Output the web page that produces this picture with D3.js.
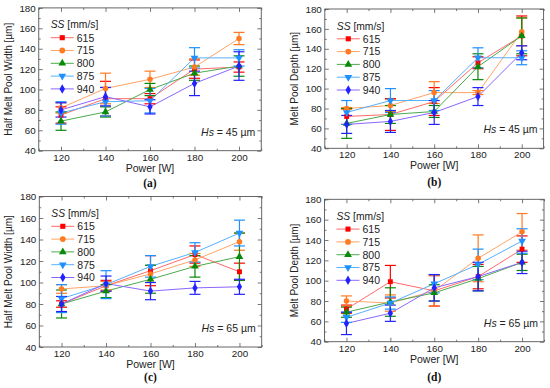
<!DOCTYPE html>
<html>
<head>
<meta charset="utf-8">
<script src="https://cdn.jsdelivr.net/npm/d3@7"></script>
<style>
  body { margin: 0; background: #fff; }
  svg { display: block; font-family: "Liberation Sans", Arial, sans-serif; }
</style>
</head>
<body>
<script>
const powers = [120, 140, 160, 180, 200]
const speeds = ["615", "715", "800", "875", "940"]

// panel (a) half width, Hs = 45
const widthHs45 = [
  [75, 91, 91, 120, 122],
  [82, 101, 110, 122, 150],
  [69, 78, 100, 116, 123],
  [77, 88, 89, 131, 131],
  [80, 93, 83, 106, 123]
]
const widthHs45Err = [
  [8, 17, 5, 9, 5],
  [5, 15, 8, 8, 6],
  [9, 5, 6, 7, 10],
  [11, 14, 12, 10, 8],
  [7, 9, 7, 12, 14]
]
// panel (b) depth, Hs = 45
const depthHs45 = [
  [72, 74, 87, 126, 153],
  [80, 83, 96, 96, 157],
  [65, 74, 77, 122, 153],
  [76, 88, 88, 131, 131],
  [64, 67, 76, 92, 136]
]
const depthHs45Err = [
  [8, 16, 14, 6, 20],
  [1, 6, 11, 2, 14],
  [15, 9, 6, 13, 18],
  [12, 12, 10, 10, 7],
  [9, 11, 12, 9, 7]
]
// panel (c) half width, Hs = 65
const widthHs65 = [
  [80, 97, 111, 126, 110],
  [94, 97, 108, 121, 138],
  [80, 92, 103, 115, 124],
  [85, 98, 115, 128, 146],
  [80, 99, 92, 95, 96]
]
const widthHs65Err = [
  [3, 5, 14, 8, 8],
  [4, 4, 8, 6, 8],
  [13, 6, 13, 10, 22],
  [13, 13, 10, 9, 12],
  [7, 7, 8, 6, 7]
]
// panel (d) depth, Hs = 65
const depthHs65 = [
  [72, 99, 90, 104, 131],
  [80, 78, 90, 122, 148],
  [69, 79, 88, 102, 118],
  [64, 78, 97, 116, 139],
  [58, 68, 93, 104, 118]
]
const depthHs65Err = [
  [4, 16, 15, 12, 13],
  [5, 8, 15, 23, 18],
  [5, 14, 8, 12, 8],
  [5, 6, 9, 15, 12],
  [11, 8, 13, 14, 11]
]
const yTicks = [40, 60, 80, 100, 120, 140, 160, 180]

const markerColor = ["#ff0000", "#ff7a22", "#088a08", "#1e90ff", "#2222ff"]
const lineColor = ["#ff6a6a", "#ffa466", "#4caa4c", "#55b0ff", "#8a66ff"]
const symbols = [d3.symbolSquare, d3.symbolCircle, d3.symbolTriangle, d3.symbolTriangle, d3.symbolDiamond]

const svg = d3.select("body").append("svg")
    .attr("width", 550)
    .attr("height", 388)

const panels = [
  {x0: 38.75, x1: 261.25, y0: 7.9, y1: 150.7, vals: widthHs45, errs: widthHs45Err, title: "Half Melt Pool Width [\u00b5m]", hs: "45", tag: "(a)", tagY: 187, titleY: 172},
  {x0: 324.8, x1: 543.6, y0: 9, y1: 148.3, vals: depthHs45, errs: depthHs45Err, title: "Melt Pool Depth [\u00b5m]", hs: "45", tag: "(b)", tagY: 186, titleY: 169},
  {x0: 39.3, x1: 261.7, y0: 196.5, y1: 347, vals: widthHs65, errs: widthHs65Err, title: "Half Melt Pool Width [\u00b5m]", hs: "65", tag: "(c)", tagY: 381, titleY: 368},
  {x0: 324.5, x1: 544, y0: 199.3, y1: 341.7, vals: depthHs65, errs: depthHs65Err, title: "Melt Pool Depth [\u00b5m]", hs: "65", tag: "(d)", tagY: 381, titleY: 363}
]

function drawPanel(p){
    const g = svg.append("g")
    const x = d3.scaleLinear().domain([110, 210]).range([p.x0, p.x1])
    const y = d3.scaleLinear().domain([40, 180]).range([p.y1, p.y0])

    // inward major + minor ticks on all four sides
    const minorX = d3.range(110, 211, 10).filter(v => powers.indexOf(v) < 0)
    const minorY = d3.range(50, 180, 20)
    function ax(maker, scale, tr, vals, size, labels){
        const a = g.append("g").attr("transform", tr)
            .call(maker(scale).tickValues(vals).tickSize(size).tickPadding(labels ? 3 : 0)
                .tickFormat(labels ? d3.format("d") : ""))
        a.select(".domain").remove()
        a.selectAll("line").attr("stroke", "#555").attr("stroke-width", 0.8)
        a.selectAll("text").attr("fill", "#222").style("font-size", "9.8px")
        return a
    }
    ax(d3.axisBottom, x, `translate(0,${p.y1})`, powers, -4, true)
    ax(d3.axisBottom, x, `translate(0,${p.y1})`, minorX, -2, false)
    ax(d3.axisTop, x, `translate(0,${p.y0})`, powers, -4, false)
    ax(d3.axisTop, x, `translate(0,${p.y0})`, minorX, -2, false)
    ax(d3.axisLeft, y, `translate(${p.x0},0)`, yTicks, -4, true)
    ax(d3.axisLeft, y, `translate(${p.x0},0)`, minorY, -2, false)
    ax(d3.axisRight, y, `translate(${p.x1},0)`, yTicks, -4, false)
    ax(d3.axisRight, y, `translate(${p.x1},0)`, minorY, -2, false)

    g.append("rect")
        .attr("x", p.x0).attr("y", p.y0)
        .attr("width", p.x1 - p.x0).attr("height", p.y1 - p.y0)
        .attr("fill", "none").attr("stroke", "#555").attr("stroke-width", 0.9)

    const line = d3.line().x((d, i) => x(powers[i])).y(d => y(d))

    speeds.forEach(function(s, k){
        g.append("path")
            .attr("d", line(p.vals[k]))
            .attr("fill", "none")
            .attr("stroke", lineColor[k])
            .attr("stroke-width", 1)
    })
    speeds.forEach(function(s, k){
        const vals = p.vals[k], errs = p.errs[k]
        vals.forEach(function(v, i){
            const cx = x(powers[i])
            const e = errs[i]
            const eb = g.append("g").attr("stroke", markerColor[k]).attr("stroke-width", 1.2)
            eb.append("line").attr("x1", cx).attr("x2", cx).attr("y1", y(v - e)).attr("y2", y(v + e))
            eb.append("line").attr("x1", cx - 5.5).attr("x2", cx + 5.5).attr("y1", y(v - e)).attr("y2", y(v - e))
            eb.append("line").attr("x1", cx - 5.5).attr("x2", cx + 5.5).attr("y1", y(v + e)).attr("y2", y(v + e))
        })
    })
    speeds.forEach(function(s, k){
        p.vals[k].forEach(function(v, i){
            g.append("path")
                .attr("d", d3.symbol().type(symbols[k]).size(k == 2 || k == 3 ? 26 : 24)())
                .attr("transform", `translate(${x(powers[i])},${y(v)})` + (k == 3 ? " rotate(180)" : ""))
                .attr("fill", markerColor[k])
        })
    })

    // legend
    const lx = p.x0 + 12, ly = p.y0 + 17
    const lt = g.append("text").attr("x", lx).attr("y", ly + 3.5)
        .style("font-size", "10.3px").attr("fill", "#222")
    lt.append("tspan").style("font-style", "italic").text("SS")
    lt.append("tspan").text(" [mm/s]")
    speeds.forEach(function(s, k){
        const yy = ly + 12.8 * (k + 1)
        g.append("line").attr("x1", lx).attr("x2", lx + 23).attr("y1", yy).attr("y2", yy)
            .attr("stroke", lineColor[k]).attr("stroke-width", 1)
        g.append("path")
            .attr("d", d3.symbol().type(symbols[k]).size(26)())
            .attr("transform", `translate(${lx + 11.5},${yy})` + (k == 3 ? " rotate(180)" : ""))
            .attr("fill", markerColor[k])
        g.append("text").attr("x", lx + 26).attr("y", yy + 3.8)
            .style("font-size", "10.5px").attr("fill", "#222").text(s)
    })

    const ht = g.append("text").attr("x", p.x1 - 6).attr("y", p.y1 - 15)
        .attr("text-anchor", "end").style("font-size", "10.5px").attr("fill", "#222")
    ht.append("tspan").style("font-style", "italic").text("Hs")
    ht.append("tspan").text(" = " + p.hs + " \u00b5m")

    // axis titles and panel tag
    g.append("text")
        .attr("transform", `translate(${p.x0 - 27},${(p.y0 + p.y1) / 2}) rotate(-90)`)
        .attr("text-anchor", "middle").style("font-size", "10px").attr("fill", "#222")
        .text(p.title)
    g.append("text").attr("x", (p.x0 + p.x1) / 2).attr("y", p.titleY)
        .attr("text-anchor", "middle").style("font-size", "10.5px").attr("fill", "#222")
        .text("Power [W]")
    g.append("text").attr("x", (p.x0 + p.x1) / 2).attr("y", p.tagY)
        .attr("text-anchor", "middle").style("font-family", "'Liberation Serif', serif")
        .style("font-size", "11.5px").style("font-weight", "bold").attr("fill", "#111")
        .text(p.tag)
}

panels.forEach(drawPanel)
</script>
</body>
</html>
